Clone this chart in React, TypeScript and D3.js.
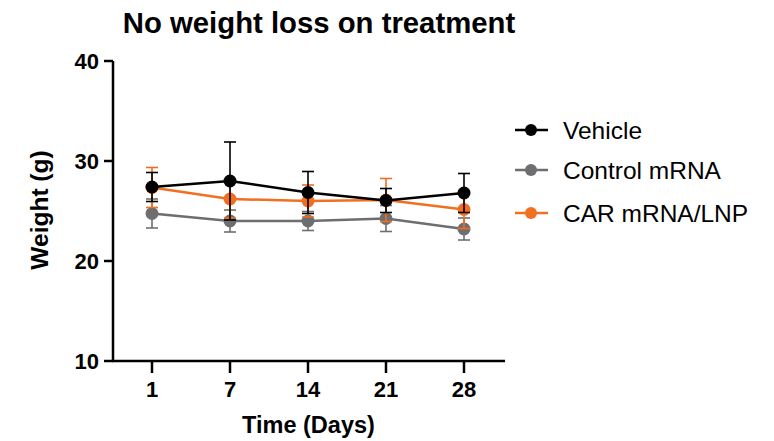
import React from "react";
import * as d3 from "d3";

const days = ["1", "7", "14", "21", "28"];
const yTicks = [10, 20, 30, 40];
const seriesNames = ["Vehicle", "Control mRNA", "CAR mRNA/LNP"];
const seriesColors = ["#000000", "#6d6e71", "#f26f21"];
const vehicleMean = [27.4, 28.0, 26.85, 26.05, 26.8];
const vehicleSD = [1.45, 3.9, 2.1, 1.2, 1.95];
const controlMean = [24.75, 24.0, 24.0, 24.25, 23.2];
const controlSD = [1.45, 1.1, 0.95, 1.3, 1.1];
const carMean = [27.35, 26.2, 26.0, 26.1, 25.15];
const carSD = [2.0, 1.9, 1.6, 2.15, 1.9];

const W = 774, H = 441;
const FONT = "Liberation Sans, Arial, sans-serif";

export default function App() {
  const x = d3.scalePoint<string>().domain(days).range([113, 503]).padding(0.5);
  const y = d3.scaleLinear().domain([10, 40]).range([361, 61]);
  const series = [
    { name: seriesNames[1], color: seriesColors[1], mean: controlMean, sd: controlSD },
    { name: seriesNames[2], color: seriesColors[2], mean: carMean, sd: carSD },
    { name: seriesNames[0], color: seriesColors[0], mean: vehicleMean, sd: vehicleSD },
  ];
  const line = d3.line<number>().x((_, i) => x(days[i])!).y((d) => y(d));
  const legendY = [130, 170, 213];
  return (
    <svg width={W} height={H} style={{ position: "absolute", left: 0, top: 0 }} fontFamily={FONT}>
      <rect width={W} height={H} fill="#fff" />
      <text x={319} y={33} textAnchor="middle" fontSize={29.3} fontWeight="bold">No weight loss on treatment</text>
      {/* axes */}
      <line x1={113} x2={113} y1={y(40)} y2={y(10) + 1} stroke="#000" strokeWidth={2.5} />
      <line x1={112} x2={505} y1={y(10)} y2={y(10)} stroke="#000" strokeWidth={2.5} />
      {yTicks.map((t) => (
        <g key={t}>
          <line x1={104} x2={113} y1={y(t)} y2={y(t)} stroke="#000" strokeWidth={2.5} />
          <text x={99} y={y(t)} dy="0.36em" textAnchor="end" fontSize={22} fontWeight="bold">{t}</text>
        </g>
      ))}
      {days.map((d) => (
        <g key={d}>
          <line x1={x(d)} x2={x(d)} y1={y(10)} y2={y(10) + 12} stroke="#000" strokeWidth={2.5} />
          <text x={x(d)} y={397} textAnchor="middle" fontSize={22} fontWeight="bold">{d}</text>
        </g>
      ))}
      <text x={308.5} y={433} textAnchor="middle" fontSize={23.5} fontWeight="bold">Time (Days)</text>
      <text transform={`translate(48,210) rotate(-90)`} textAnchor="middle" fontSize={24.5} fontWeight="bold">Weight (g)</text>
      {/* series */}
      {series.map((s) => (
        <g key={s.name}>
          {s.mean.map((m, i) => {
            const cx = x(days[i])!;
            return (
              <g key={i} stroke={s.color} strokeWidth={1.6}>
                <line x1={cx} x2={cx} y1={y(m + s.sd[i])} y2={y(m - s.sd[i])} />
                <line x1={cx - 6} x2={cx + 6} y1={y(m + s.sd[i])} y2={y(m + s.sd[i])} />
                <line x1={cx - 6} x2={cx + 6} y1={y(m - s.sd[i])} y2={y(m - s.sd[i])} />
              </g>
            );
          })}
          <path d={line(s.mean)!} fill="none" stroke={s.color} strokeWidth={2.5} />
          {s.mean.map((m, i) => (
            <circle key={i} cx={x(days[i])} cy={y(m)} r={6.5} fill={s.color} />
          ))}
        </g>
      ))}
      {/* legend */}
      {seriesNames.map((n, i) => (
        <g key={n}>
          <line x1={515} x2={548} y1={legendY[i]} y2={legendY[i]} stroke={seriesColors[i]} strokeWidth={2.5} />
          <circle cx={531} cy={legendY[i]} r={6} fill={seriesColors[i]} />
          <text x={563} y={legendY[i]} dy="0.36em" fontSize={24.5}>{n}</text>
        </g>
      ))}
    </svg>
  );
}
